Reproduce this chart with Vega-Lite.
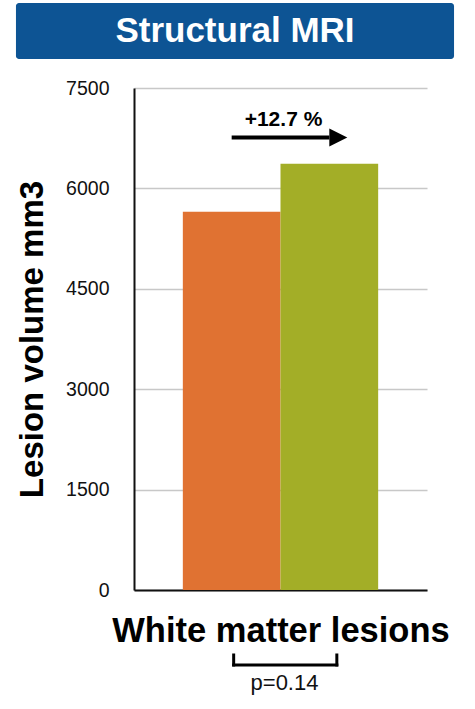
{
  "$schema": "https://vega.github.io/schema/vega-lite/v6.json",
  "width": 293,
  "height": 502,
  "autosize": "none",
  "padding": {"left": 134, "top": 88, "right": 48, "bottom": 119},
  "background": "white",
  "config": {"view": {"stroke": null}, "font": "Liberation Sans"},
  "datasets": {
    "bars": [
      {"group": "Baseline", "value": 5650},
      {"group": "Follow-up", "value": 6368}
    ],
    "notes": [
      {"from": "Baseline", "to": "Follow-up", "change": "+12.7 %", "p": "p=0.14", "banner": "Structural MRI"}
    ]
  },
  "layer": [
    {
      "data": {"name": "bars"},
      "mark": {"type": "bar"},
      "encoding": {
        "x": {
          "field": "group", "type": "nominal",
          "scale": {"domain": ["Baseline", "Follow-up"], "paddingInner": 0, "paddingOuter": 0.5},
          "axis": {
            "title": "White matter lesions", "labels": false, "ticks": false, "tickSize": 0,
            "domainColor": "#111111", "domainWidth": 2, "grid": false,
            "titleFontSize": 34.5, "titleFontWeight": "bold", "titleColor": "#000000", "titlePadding": 24
          }
        },
        "y": {
          "field": "value", "type": "quantitative",
          "scale": {"domain": [0, 7500], "nice": false},
          "axis": {
            "title": "Lesion volume mm3", "values": [0, 1500, 3000, 4500, 6000, 7500], "format": "d",
            "ticks": false, "tickSize": 0, "labelPadding": 25, "labelFontSize": 19.5, "labelColor": "#111111",
            "domainColor": "#111111", "domainWidth": 2,
            "grid": true, "gridColor": "#c8c8c8", "gridWidth": 1.5,
            "titleFontSize": 33, "titleFontWeight": "bold", "titleColor": "#000000", "titlePadding": 16
          }
        },
        "color": {
          "field": "group", "type": "nominal",
          "scale": {"domain": ["Baseline", "Follow-up"], "range": ["#e07232", "#a3ae27"]},
          "legend": null
        }
      }
    },
    {
      "data": {"name": "notes"},
      "mark": {"type": "rect", "color": "#0d5494", "cornerRadius": 3, "xOffset": -215.7, "x2Offset": 124.7},
      "encoding": {
        "x": {"field": "from", "type": "nominal", "bandPosition": 0.5, "title": "White matter lesions"},
        "x2": {"field": "to", "bandPosition": 0.5},
        "y": {"datum": 8770, "type": "quantitative", "title": "Lesion volume mm3"},
        "y2": {"datum": 7933}
      }
    },
    {
      "data": {"name": "notes"},
      "mark": {"type": "text", "color": "white", "fontWeight": "bold", "fontSize": 35, "align": "center", "baseline": "middle", "dx": -45.5},
      "encoding": {
        "text": {"field": "banner"},
        "y": {"datum": 8351, "type": "quantitative", "title": "Lesion volume mm3"}
      }
    },
    {
      "data": {"name": "notes"},
      "mark": {"type": "rule", "color": "#000000", "strokeWidth": 4},
      "encoding": {
        "x": {"field": "from", "type": "nominal", "title": "White matter lesions"},
        "x2": {"field": "to"},
        "y": {"datum": 6761, "type": "quantitative", "title": "Lesion volume mm3"}
      }
    },
    {
      "data": {"name": "notes"},
      "mark": {"type": "point", "shape": "M-1,-1L1,0L-1,1Z", "filled": true, "opacity": 1, "color": "#000000", "size": 324, "xOffset": 9},
      "encoding": {
        "x": {"field": "to", "type": "nominal", "title": "White matter lesions"},
        "y": {"datum": 6761, "type": "quantitative", "title": "Lesion volume mm3"}
      }
    },
    {
      "data": {"name": "notes"},
      "mark": {"type": "text", "color": "#000000", "fontWeight": "bold", "fontSize": 21, "align": "center", "baseline": "alphabetic", "dx": 3},
      "encoding": {
        "text": {"field": "change"},
        "y": {"datum": 6937, "type": "quantitative", "title": "Lesion volume mm3"}
      }
    },
    {
      "data": {"name": "notes"},
      "mark": {"type": "rule", "color": "#000000", "strokeWidth": 3, "strokeCap": "square", "xOffset": 2, "x2Offset": 7.5},
      "encoding": {
        "x": {"field": "from", "type": "nominal", "title": "White matter lesions"},
        "x2": {"field": "to"},
        "y": {"datum": -1120, "type": "quantitative", "title": "Lesion volume mm3"}
      }
    },
    {
      "data": {"name": "notes"},
      "mark": {"type": "rule", "color": "#000000", "strokeWidth": 3, "strokeCap": "square", "xOffset": 2},
      "encoding": {
        "x": {"field": "from", "type": "nominal", "title": "White matter lesions"},
        "y": {"datum": -971, "type": "quantitative", "title": "Lesion volume mm3"},
        "y2": {"datum": -1120}
      }
    },
    {
      "data": {"name": "notes"},
      "mark": {"type": "rule", "color": "#000000", "strokeWidth": 3, "strokeCap": "square", "xOffset": 7.5},
      "encoding": {
        "x": {"field": "to", "type": "nominal", "title": "White matter lesions"},
        "y": {"datum": -971, "type": "quantitative", "title": "Lesion volume mm3"},
        "y2": {"datum": -1120}
      }
    },
    {
      "data": {"name": "notes"},
      "mark": {"type": "text", "color": "#111111", "fontSize": 22, "align": "center", "baseline": "alphabetic", "dx": 4},
      "encoding": {
        "text": {"field": "p"},
        "y": {"datum": -1494, "type": "quantitative", "title": "Lesion volume mm3"}
      }
    }
  ]
}
